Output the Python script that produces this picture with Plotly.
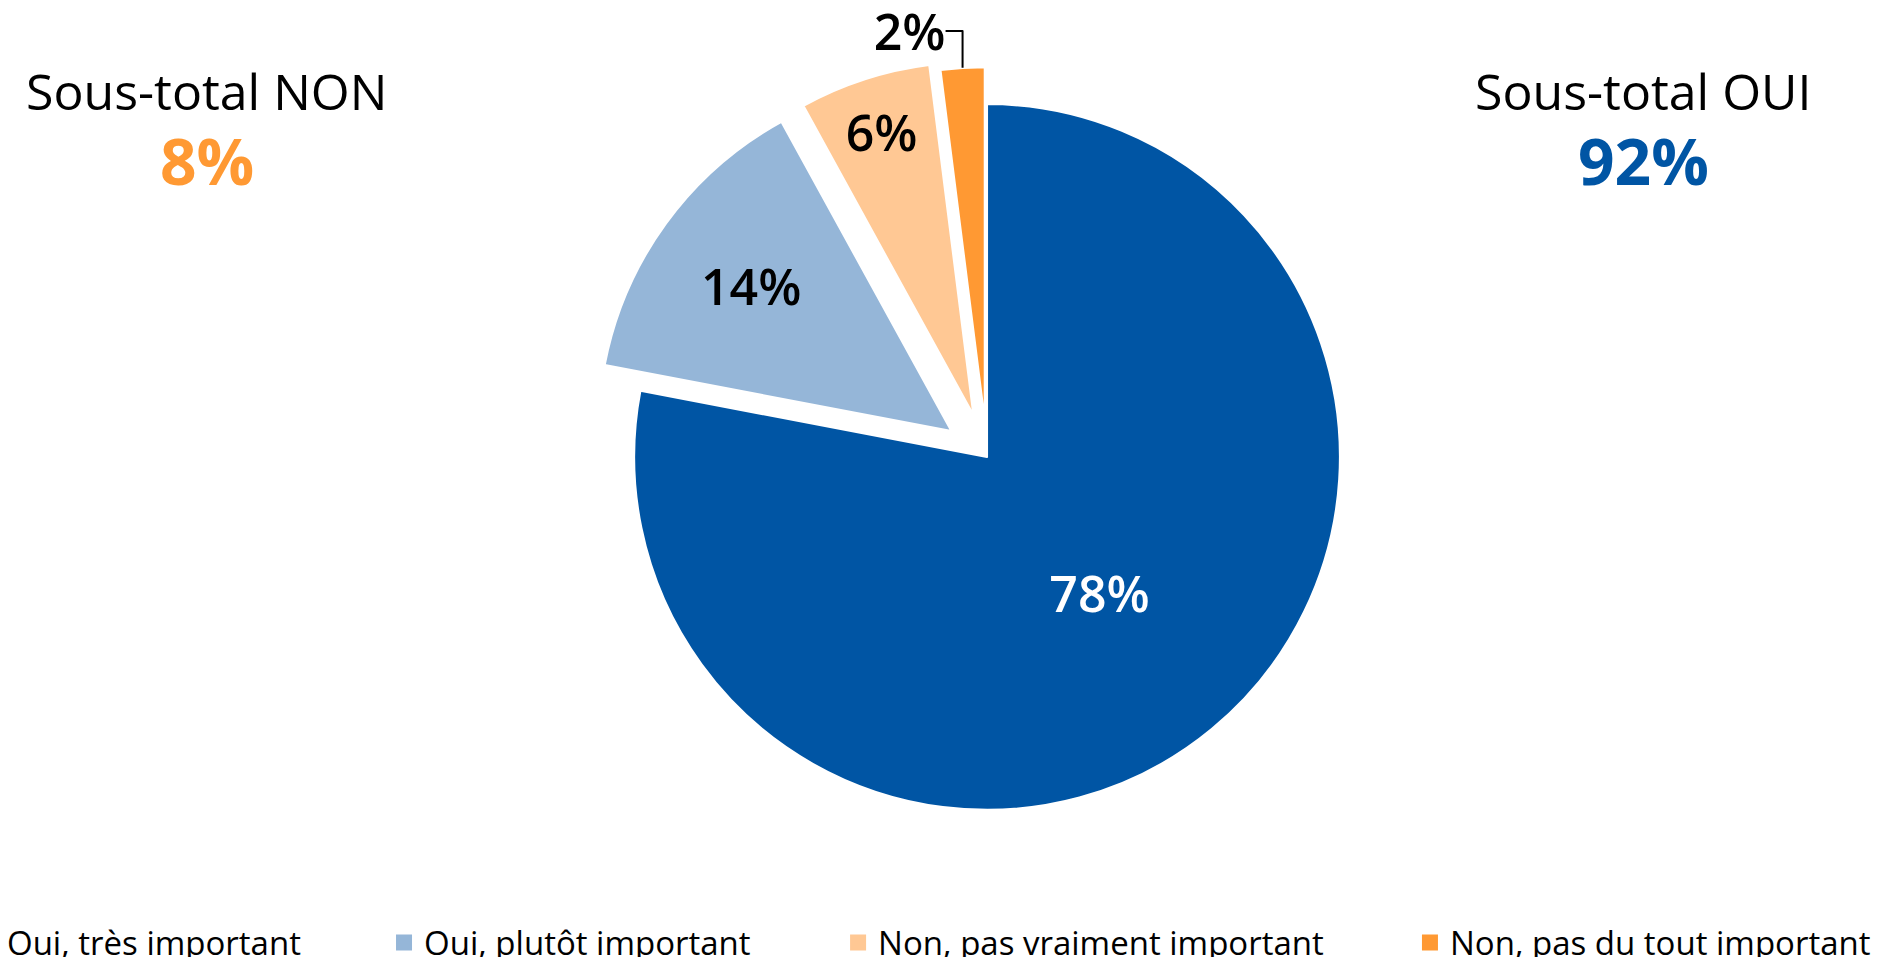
import plotly.graph_objects as go

# ---- data ----
labels = ["Oui, très important", "Oui, plutôt important",
          "Non, pas vraiment important", "Non, pas du tout important"]
values = [78, 14, 6, 2]
colors = ["#0055A4", "#95B6D8", "#FFC894", "#FF9933"]
text_colors = ["#FFFFFF", "#000000", "#000000", "#000000"]
text_positions = ["inside", "inside", "inside", "outside"]
pulls = [0, 0.125, 0.125, 0.105]
subtotal_titles = ["Sous-total NON", "Sous-total OUI"]
oui_total = sum(values[:2])
non_total = sum(values[2:])

FONT = "Open Sans"
W, H = 1888, 957

fig = go.Figure()
fig.add_trace(go.Pie(
    labels=labels,
    values=values,
    sort=False,
    direction="clockwise",
    rotation=0,
    pull=pulls,
    marker=dict(colors=colors, line=dict(color="#FFFFFF", width=2)),
    texttemplate="%{value}%",
    textinfo="text",
    textposition=text_positions,
    insidetextorientation="horizontal",
    insidetextfont=dict(family=FONT, size=50, color=text_colors, weight=600),
    outsidetextfont=dict(family=FONT, size=50, color="#000000", weight=600),
    domain=dict(x=[0.3125, 0.7331], y=[0.1077, 0.9373]),
    showlegend=False,
    hoverinfo="label+percent",
))

# legend entries (one legend per entry to mimic the spaced layout)
legend_x = [-0.0175, 0.2034, 0.4439, 0.7468]
for i, (lab, col) in enumerate(zip(labels, colors)):
    lid = "legend" if i == 0 else f"legend{i+1}"
    fig.add_trace(go.Scatter(
        x=[None], y=[None], mode="markers", name=lab,
        marker=dict(symbol="square", size=16, color=col),
        legend=lid, showlegend=True,
    ))

legend_common = dict(orientation="h", yanchor="middle", y=0.0152, xanchor="left",
                      bgcolor="rgba(0,0,0,0)", borderwidth=0,
                      font=dict(family=FONT, size=33, color="#000000"))
layout_legends = {}
for i in range(4):
    lid = "legend" if i == 0 else f"legend{i+1}"
    layout_legends[lid] = dict(x=legend_x[i], **legend_common)

fig.update_layout(
    width=W, height=H,
    margin=dict(l=0, r=0, t=0, b=0, autoexpand=False),
    paper_bgcolor="#FFFFFF", plot_bgcolor="#FFFFFF",
    xaxis=dict(visible=False), yaxis=dict(visible=False),
    uniformtext=dict(minsize=50, mode="show"),
    **layout_legends,
)

# sub-total annotations
ann = [
    (subtotal_titles[0], 0.1096, 0.9044, "#000000", 50, "normal"),
    (f"{non_total}%", 0.1096, 0.8328, "#FF9933", 64, "bold"),
    (subtotal_titles[1], 0.8703, 0.9044, "#000000", 50, "normal"),
    (f"{oui_total}%", 0.8703, 0.8328, "#0055A4", 64, "bold"),
]
for txt, x, y, c, s, w in ann:
    fig.add_annotation(text=txt, x=x, y=y, xref="paper", yref="paper",
                       xanchor="center", yanchor="middle", showarrow=False,
                       font=dict(family=FONT, size=s, color=c, weight=w))

fig.write_html("out.html", post_script="document.body.style.margin='0';",
               config={"displayModeBar": False})
